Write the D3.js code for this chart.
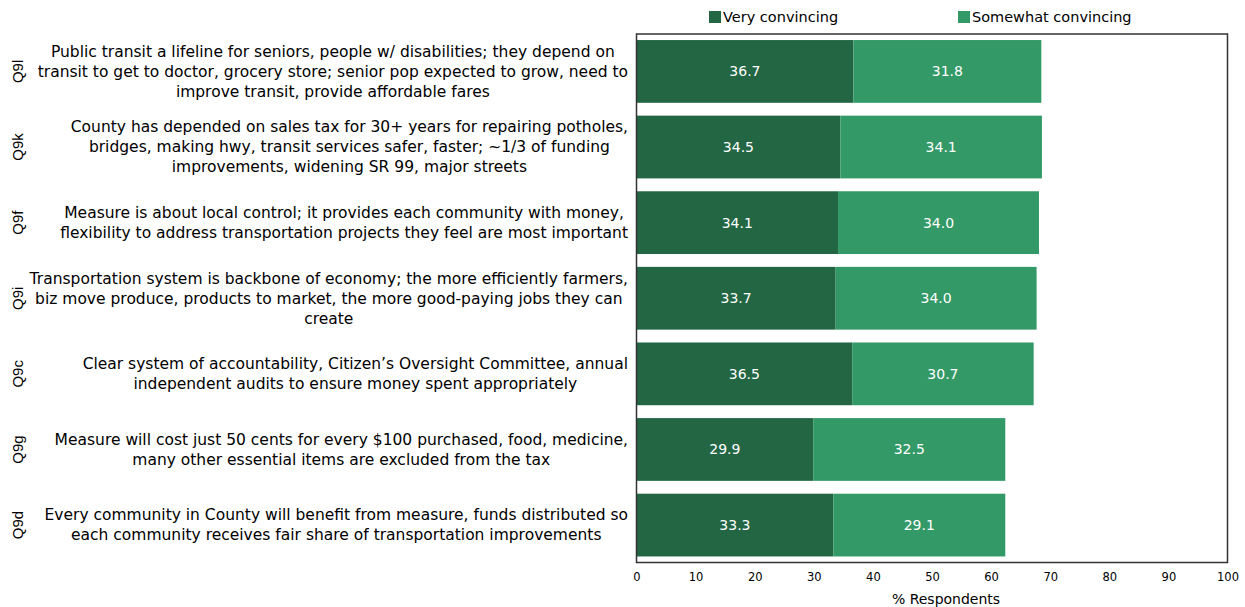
<!DOCTYPE html>
<html>
<head>
<meta charset="utf-8">
<script src="https://cdn.jsdelivr.net/npm/d3@7"></script>
<style>
  html, body { margin: 0; padding: 0; background: #fff; }
  svg { display: block; }
</style>
</head>
<body>
<svg id="chart" width="1245" height="607"></svg>
<script>
// Question codes, top to bottom
const codes = ["Q9l", "Q9k", "Q9f", "Q9i", "Q9c", "Q9g", "Q9d"];

// Statement text, one array of lines per question
const statements = [
  ["Public transit a lifeline for seniors, people w/ disabilities; they depend on",
   "transit to get to doctor, grocery store; senior pop expected to grow, need to",
   "improve transit, provide affordable fares"],
  ["County has depended on sales tax for 30+ years for repairing potholes,",
   "bridges, making hwy, transit services safer, faster; ~1/3 of funding",
   "improvements, widening SR 99, major streets"],
  ["Measure is about local control; it provides each community with money,",
   "flexibility to address transportation projects they feel are most important"],
  ["Transportation system is backbone of economy; the more efficiently farmers,",
   "biz move produce, products to market, the more good-paying jobs they can",
   "create"],
  ["Clear system of accountability, Citizen\u2019s Oversight Committee, annual",
   "independent audits to ensure money spent appropriately"],
  ["Measure will cost just 50 cents for every $100 purchased, food, medicine,",
   "many other essential items are excluded from the tax"],
  ["Every community in County will benefit from measure, funds distributed so",
   "each community receives fair share of transportation improvements"]
];

// Series values (% respondents)
const veryConvincing     = [36.7, 34.5, 34.1, 33.7, 36.5, 29.9, 33.3];
const somewhatConvincing = [31.8, 34.1, 34.0, 34.0, 30.7, 32.5, 29.1];

const seriesNames = ["Very convincing", "Somewhat convincing"];
const xTicks = [0, 10, 20, 30, 40, 50, 60, 70, 80, 90, 100];
const xTitle = "% Respondents";

const colors = ["#226644", "#339966"];
const FONT = "'DejaVu Sans', sans-serif";

const svg = d3.select("#chart");

const plot = { left: 636.5, right: 1227.5, top: 34, bottom: 562.5 };

const x = d3.scaleLinear().domain([0, 100]).range([plot.left, plot.right]);
const y = d3.scaleBand().domain(codes).range([plot.top, plot.bottom])
  .paddingInner(0.17).paddingOuter(0.08);

const rows = codes.map((c, i) => ({
  code: c, lines: statements[i],
  vals: [veryConvincing[i], somewhatConvincing[i]]
}));

// Stacked bars
rows.forEach(r => {
  let acc = 0;
  r.vals.forEach((v, k) => {
    const x0 = x(acc), x1 = x(acc + v);
    svg.append("rect")
      .attr("x", x0).attr("y", y(r.code))
      .attr("width", x1 - x0).attr("height", y.bandwidth())
      .attr("fill", colors[k]);
    svg.append("text")
      .attr("x", (x0 + x1) / 2)
      .attr("y", y(r.code) + y.bandwidth() / 2)
      .attr("dy", "0.35em")
      .attr("text-anchor", "middle")
      .attr("fill", "#fff")
      .style("font-family", FONT)
      .style("font-size", "14px")
      .text(v.toFixed(1));
    acc += v;
  });
});

// Plot frame
svg.append("rect")
  .attr("x", plot.left).attr("y", plot.top)
  .attr("width", plot.right - plot.left).attr("height", plot.bottom - plot.top)
  .attr("fill", "none").attr("stroke", "#333").attr("stroke-width", 1.5);

// X axis labels
const xAxis = d3.axisBottom(x).tickValues(xTicks).tickSize(0).tickPadding(10);
const gx = svg.append("g").attr("transform", `translate(0,${plot.bottom})`).call(xAxis);
gx.select(".domain").remove();
gx.selectAll("text")
  .style("font-family", FONT).style("font-size", "11.5px").attr("fill", "#000");

svg.append("text")
  .attr("x", 946)
  .attr("y", 604)
  .attr("text-anchor", "middle")
  .style("font-family", FONT).style("font-size", "14px")
  .text(xTitle);

// Question codes, rotated
rows.forEach(r => {
  const cy = y(r.code) + y.bandwidth() / 2;
  svg.append("text")
    .attr("transform", `translate(23,${cy}) rotate(-90)`)
    .attr("text-anchor", "middle")
    .style("font-family", "'Liberation Sans', Arial, sans-serif")
    .style("font-size", "15px")
    .text(r.code);
});

// Statement labels: block right-aligned, lines centred within block
const lineH = 20;
rows.forEach(r => {
  const cy = y(r.code) + y.bandwidth() / 2;
  const g = svg.append("g");
  const n = r.lines.length;
  const texts = r.lines.map((ln, i) => g.append("text")
    .attr("y", cy + (i - (n - 1) / 2) * lineH)
    .attr("dy", "0.35em")
    .attr("text-anchor", "middle")
    .style("font-family", FONT)
    .style("font-size", "15.5px")
    .text(ln));
  const maxW = d3.max(texts, t => t.node().getComputedTextLength());
  const cx = 628 - maxW / 2;
  texts.forEach(t => t.attr("x", cx));
});

// Legend
const legendItems = [{ x: 709, name: seriesNames[0], c: colors[0] },
                     { x: 958, name: seriesNames[1], c: colors[1] }];
legendItems.forEach(it => {
  svg.append("rect").attr("x", it.x).attr("y", 11).attr("width", 12).attr("height", 12)
    .attr("fill", it.c);
  svg.append("text").attr("x", it.x + 14).attr("y", 17).attr("dy", "0.35em")
    .style("font-family", FONT).style("font-size", "14.5px").text(it.name);
});
</script>
</body>
</html>
